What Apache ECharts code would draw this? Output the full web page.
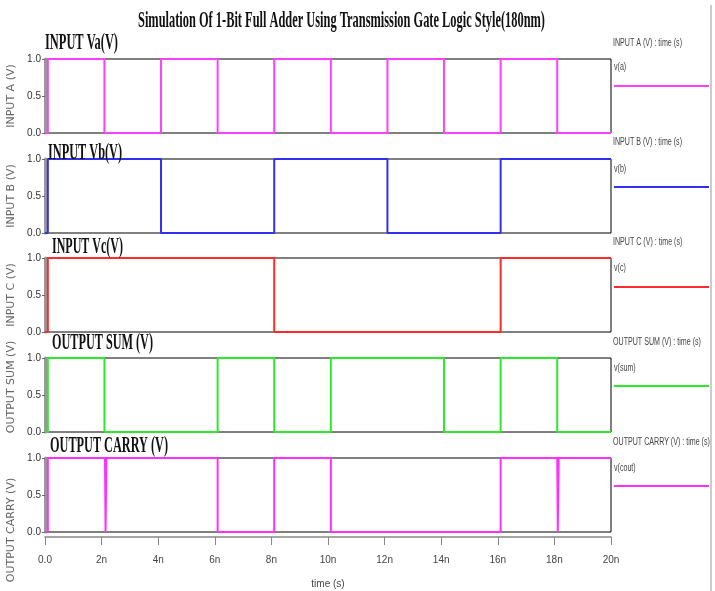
<!DOCTYPE html>
<html>
<head>
<meta charset="utf-8">
<title>1-Bit Full Adder TG simulation</title>
<script src="https://cdn.jsdelivr.net/npm/echarts@6/dist/echarts.min.js"></script>
<style>
  html, body { margin: 0; padding: 0; background: #fff; }
  #chart { width: 715px; height: 591px; }
</style>
</head>
<body>
<div id="chart"></div>
<script>
// time axis in ns, values in volts
const timeTicks = [0, 2, 4, 6, 8, 10, 12, 14, 16, 18, 20];
const voltTicks = [0, 0.5, 1];

const timeA = [0, 0.1, 0.1, 2.1, 2.1, 4.1, 4.1, 6.1, 6.1, 8.1, 8.1, 10.1, 10.1, 12.1, 12.1, 14.1, 14.1, 16.1, 16.1, 18.1, 18.1, 20];
const voltA = [0, 0, 1, 1, 0, 0, 1, 1, 0, 0, 1, 1, 0, 0, 1, 1, 0, 0, 1, 1, 0, 0];

const timeB = [0, 0.1, 0.1, 4.1, 4.1, 8.1, 8.1, 12.1, 12.1, 16.1, 16.1, 20];
const voltB = [0, 0, 1, 1, 0, 0, 1, 1, 0, 0, 1, 1];

const timeC = [0, 0.1, 0.1, 8.1, 8.1, 16.1, 16.1, 20];
const voltC = [0, 0, 1, 1, 0, 0, 1, 1];

const timeSum = [0, 0.1, 0.1, 2.1, 2.1, 6.1, 6.1, 8.1, 8.1, 10.1, 10.1, 14.1, 14.1, 16.1, 16.1, 18.1, 18.1, 20];
const voltSum = [0, 0, 1, 1, 0, 0, 1, 1, 0, 0, 1, 1, 0, 0, 1, 1, 0, 0];

const timeCout = [0, 0.1, 0.1, 2.12, 2.14, 2.17, 6.1, 6.1, 8.1, 8.1, 10.1, 10.1, 16.1, 16.1, 18.1, 18.12, 18.15, 20];
const voltCout = [0, 0, 1, 1, 0, 1, 1, 0, 0, 1, 1, 0, 0, 1, 1, 0, 1, 1];

const panelTitles = ['INPUT Va(V)', 'INPUT Vb(V)', 'INPUT Vc(V)', 'OUTPUT SUM (V)', 'OUTPUT CARRY (V)'];
const axisNames = ['INPUT A (V)', 'INPUT B (V)', 'INPUT C (V)', 'OUTPUT SUM (V)', 'OUTPUT CARRY (V)'];
const legendHeads = ['INPUT A (V) : time (s)', 'INPUT B (V) : time (s)', 'INPUT C (V) : time (s)', 'OUTPUT SUM (V) : time (s)', 'OUTPUT CARRY (V) : time (s)'];
const legendNames = ['v(a)', 'v(b)', 'v(c)', 'v(sum)', 'v(cout)'];
const mainTitle = 'Simulation Of 1-Bit Full Adder Using Transmission Gate Logic Style(180nm)';

const colors = ['#ff40ff', '#3030f0', '#ff2a2a', '#2ee82e', '#ff30ff'];
const signals = [[timeA, voltA], [timeB, voltB], [timeC, voltC], [timeSum, voltSum], [timeCout, voltCout]];

const gridTops = [59, 159, 258, 358, 458];
const serifFont = "'Liberation Serif', 'Times New Roman', serif";
const narrowFont = "'Liberation Sans Narrow', 'Arial Narrow', 'Liberation Sans', sans-serif";

const ctx = document.createElement('canvas').getContext('2d');
function fitScale(text, font, width) {
  ctx.font = font;
  return width / ctx.measureText(text).width;
}

// squeezed text, like the condensed fonts of the simulator plot
function squeezed(text, x, y, font, width, color) {
  return {
    type: 'text', x: x, y: y, scaleX: fitScale(text, font, width), z: 100,
    style: { text: text, font: font, fill: color, align: 'left', verticalAlign: 'middle' }
  };
}

const chart = echarts.init(document.getElementById('chart'));

const grids = gridTops.map(t => ({
  left: 45, right: 104, top: t, height: 74,
  show: true, borderColor: '#000', borderWidth: 1, backgroundColor: '#fff',
  outerBoundsMode: 'none'
}));

const xAxes = gridTops.map((t, i) => {
  const last = i === gridTops.length - 1;
  return {
    type: 'value', gridIndex: i, min: 0, max: 20, interval: 2,
    splitLine: { show: false },
    axisLine: { show: last, onZero: false, lineStyle: { color: '#888', width: 1.5 } },
    offset: last ? 5 : 0,
    axisTick: { show: last, length: 8, lineStyle: { color: '#888' } },
    axisLabel: {
      show: last, margin: 18, color: '#444', fontSize: 10, fontFamily: narrowFont,
      formatter: v => timeTicks.indexOf(v) < 0 ? '' : (v === 0 ? '0.0' : v + 'n')
    },
    name: last ? 'time (s)' : '',
    nameLocation: 'middle', nameGap: 42,
    nameTextStyle: { color: '#444', fontSize: 10, fontFamily: narrowFont }
  };
});

// the two lower axis names sit off-centre in the original, nudged along the axis
const namePads = [0, 0, 0, [0, 0, 0, 16], [0, 70, 0, 0]];
const yAxes = gridTops.map((t, i) => ({
  type: 'value', gridIndex: i, min: 0, max: 1, interval: 0.5,
  splitLine: { show: false },
  axisLine: { show: true, lineStyle: { color: '#999', width: 3 } },
  axisTick: { show: true, length: 3, lineStyle: { color: '#666' } },
  axisLabel: {
    margin: 4, color: '#333', fontSize: 10, fontFamily: narrowFont,
    formatter: v => voltTicks.indexOf(v) < 0 ? '' : v.toFixed(1)
  },
  name: axisNames[i], nameLocation: 'middle', nameGap: 21,
  nameTextStyle: { color: '#666', fontSize: 11, fontFamily: "'DejaVu Sans', sans-serif", padding: namePads[i] }
}));

const series = signals.map((s, i) => ({
  type: 'line', xAxisIndex: i, yAxisIndex: i,
  data: s[0].map((t, k) => [t, s[1][k]]),
  showSymbol: false, clip: false, animation: false,
  lineStyle: { color: colors[i], width: 2 },
  z: 5
}));

const graphics = [];
graphics.push(squeezed(mainTitle, 138, 21, 'bold 24px ' + serifFont, 407, '#111'));
const titleX = [45, 48, 52, 52, 50];
const titleY = [43, 153, 247, 343, 446];
const titleW = [73, 74, 71, 101, 118];
panelTitles.forEach((txt, i) => {
  graphics.push(squeezed(txt, titleX[i], titleY[i], 'bold 24px ' + serifFont, titleW[i], '#111'));
});

const legendFont = '10px ' + narrowFont;
const legendScale = fitScale(legendHeads[0], legendFont, 69);
const headY = [43, 142, 242, 342, 442];
const nameY = [67, 169, 268, 368, 468];
const lineY = [86, 187, 287, 386, 486];
legendHeads.forEach((txt, i) => {
  graphics.push({ type: 'text', x: 613, y: headY[i], scaleX: legendScale,
    style: { text: txt, font: legendFont, fill: '#444', align: 'left', verticalAlign: 'middle' } });
  graphics.push({ type: 'text', x: 614, y: nameY[i], scaleX: legendScale,
    style: { text: legendNames[i], font: legendFont, fill: '#444', align: 'left', verticalAlign: 'middle' } });
  graphics.push({ type: 'line', shape: { x1: 614, y1: lineY[i], x2: 709, y2: lineY[i] },
    style: { stroke: colors[i], lineWidth: 2 } });
});
graphics.push({ type: 'line', shape: { x1: 711, y1: 5, x2: 711, y2: 591 }, style: { stroke: '#999', lineWidth: 1 } });

chart.setOption({
  backgroundColor: '#fff',
  animation: false,
  grid: grids,
  xAxis: xAxes,
  yAxis: yAxes,
  series: series,
  graphic: graphics
});

window.addEventListener('resize', function () {
  chart.resize();
});
</script>
</body>
</html>
